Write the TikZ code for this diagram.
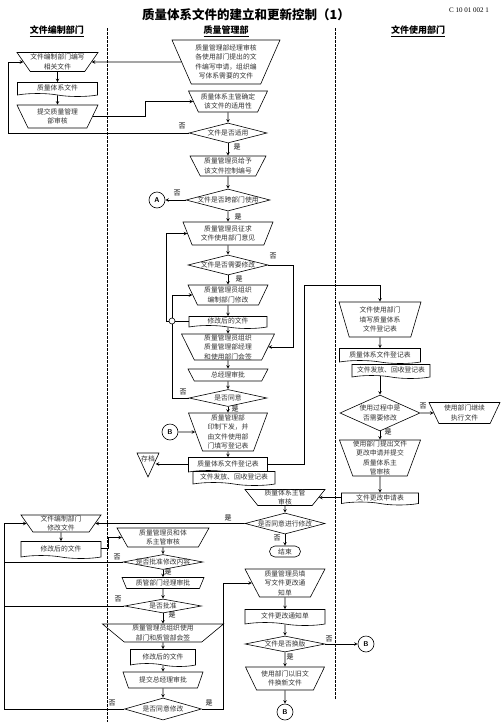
\documentclass[tikz,border=0pt]{standalone}
\usepackage{fontspec}
\setmainfont{Liberation Serif}
\newfontfamily\cjk{Noto Sans CJK SC}
\usetikzlibrary{shapes.geometric,shapes.symbols}

\begin{document}
\begin{tikzpicture}[x=1pt, y=-1pt, >=stealth, line width=0.6pt,
	every node/.style={font=\cjk\fontsize{6.8}{9.5}\selectfont, text=black!80},
	manual/.style={draw, trapezium, shape border rotate=180, trapezium stretches body, align=center, inner sep=0pt},
	doc/.style={draw, tape, tape bend top=none, tape bend bottom=out and in, tape bend height=3pt, align=center, inner sep=0pt},
	decision/.style={draw, diamond, inner sep=0pt},
	terminal/.style={draw, rectangle, rounded corners=5.5pt, minimum width=31pt, minimum height=11pt, inner sep=0pt},
	link/.style={draw, circle, minimum size=16pt, inner sep=0pt, font=\sffamily\bfseries\scriptsize, text=black},
	junction/.style={draw, circle, minimum size=6pt, inner sep=0pt, fill=white},
	tag/.style={font=\cjk\fontsize{7}{8}\selectfont, text=black, inner sep=0pt},
	lane/.style={font=\cjk\fontsize{9}{10}\selectfont\bfseries, text=black}]
	\useasboundingbox (0,0) rectangle (503,726);

	\draw [dash pattern=on 2.5pt off 1.5pt] (107,28) -- (107,722);
	\draw [dash pattern=on 2.5pt off 1.5pt] (335,28) -- (335,700);
	\coordinate (railA) at (8,0);
	\coordinate (railB) at (4,0);
	\coordinate (handover) at (304,285);

	\node (title) at (246,15) {\fontsize{12.5}{14}\selectfont\bfseries\color{black}质量体系文件的建立和更新控制（1）};
	\node (code) at (469,10) {\rmfamily\fontsize{7}{8}\selectfont\color{black}C 10 01 002 1};
	\node (laneAuthor) [lane] at (57,31) {\underline{文件编制部门}};
	\node (laneQuality) [lane] at (226,31) {\underline{质量管理部}};
	\node (laneUser) [lane] at (418,31) {\underline{文件使用部门}};

	% author department
	\node (writeDoc) [manual, minimum width=81pt, minimum height=19pt, trapezium angle=50] at (57.5,62) {文件编制部门编写\\相关文件};
	\node (qsDoc) [doc, minimum width=80pt, minimum height=14pt] at (57.5,88) {质量体系文件};
	\node (submit) [manual, minimum width=81pt, minimum height=23pt, trapezium angle=55] at (57.5,116.5) {提交质量管理\\部审核};

	% quality department
	\node (mgrReview) [manual, minimum width=108pt, minimum height=44pt, trapezium angle=61] at (226,62) {质量管理部经理审核\\各使用部门提出的文\\件编写申请，组织编\\写体系需要的文件};
	\node (confirm) [manual, minimum width=79pt, minimum height=21pt, trapezium angle=58] at (228,101.5) {质量体系主管确定\\该文件的适用性};
	\node (applicable) [decision, minimum width=78pt, minimum height=20pt, label=center:文件是否适用] at (228,133) {};
	\node (assign) [manual, minimum width=76pt, minimum height=20pt, trapezium angle=57] at (228,166) {质量管理员给予\\该文件控制编号};
	\node (crossDept) [decision, minimum width=84pt, minimum height=22pt, label=center:文件是否跨部门使用] at (228,200) {};
	\node (A) [link] at (157,200) {A};
	\node (solicit) [manual, minimum width=90pt, minimum height=23pt, trapezium angle=60] at (228,233.5) {质量管理员征求\\文件使用部门意见};
	\node (needEdit) [decision, minimum width=80pt, minimum height=20pt, label=center:文件是否需要修改] at (228,265) {};
	\node (orgEdit) [manual, minimum width=80pt, minimum height=20pt, trapezium angle=59] at (228,295) {质量管理员组织\\编制部门修改};
	\node (revised) [doc, minimum width=78pt, minimum height=12pt] at (228,321) {修改后的文件};
	\node (joint) [junction] at (172,321) {};
	\node (countersign) [manual, minimum width=93pt, minimum height=26pt, trapezium angle=63] at (228,347) {质量管理员组织\\质量管理部经理\\和使用部门会签};
	\node (gmApprove) [manual, minimum width=80pt, minimum height=12pt, trapezium angle=45] at (228,375) {总经理审批};
	\node (agree) [decision, minimum width=78pt, minimum height=17pt, label=center:是否同意] at (228,398) {};
	\node (issue) [manual, minimum width=79pt, minimum height=38pt, trapezium angle=68] at (228,432) {质量管理部\\印制下发，并\\由文件使用部\\门填写登记表};
	\node (B1) [link] at (170,432) {B};
	\node (register) [doc, minimum width=79pt, minimum height=16pt] at (228,464) {质量体系文件登记表};
	\node (distrib) [doc, fill=white, minimum width=82pt, minimum height=14pt] at (234,477) {文件发放、回收登记表};
	\node (archive) [inner sep=0.5pt] at (148,459) {存档};
	\draw (137,453) -- (159,453) -- (148,477) -- cycle;

	% user department
	\node (userFill) [manual, minimum width=82pt, minimum height=35pt, trapezium angle=68] at (380,319.5) {文件使用部门\\填写质量体系\\文件登记表};
	\node (userRegister) [doc, minimum width=81pt, minimum height=15pt] at (380,354.5) {质量体系文件登记表};
	\node (userDistrib) [doc, fill=white, minimum width=78pt, minimum height=14pt] at (391,370) {文件发放、回收登记表};
	\node (useEdit) [decision, minimum width=80pt, minimum height=36pt, label={[align=center]center:使用过程中是\\否需要修改}] at (380,413) {};
	\node (continueUse) [manual, minimum width=71pt, minimum height=21pt, trapezium angle=58] at (464.5,413) {使用部门继续\\执行文件};
	\node (changeReq) [manual, minimum width=81pt, minimum height=36pt, trapezium angle=69] at (380,458) {使用部门提出文件\\更改申请并提交\\质量体系主\\管审核};
	\node (reqForm) [doc, minimum width=77pt, minimum height=12pt] at (380,497.5) {文件更改申请表};

	% change handling
	\node (supReview) [manual, minimum width=80pt, minimum height=16pt, trapezium angle=51] at (285,497.5) {质量体系主管\\审核};
	\node (agreeEdit) [decision, minimum width=80pt, minimum height=21pt, label=center:是否同意进行修改] at (285,523.5) {};
	\node (finish) [terminal] at (285,551.5) {结束};
	\node (notice) [manual, minimum width=80pt, minimum height=28pt, trapezium angle=60] at (285,583) {质量管理员填\\写文件更改通\\知单};
	\node (noticeDoc) [doc, minimum width=80pt, minimum height=16pt] at (285,616) {文件更改通知单};
	\node (newVersion) [decision, minimum width=80pt, minimum height=16pt, label=center:文件是否换版] at (285,644) {};
	\node (B2) [link] at (366,644) {B};
	\node (replace) [manual, minimum width=79pt, minimum height=23pt, trapezium angle=55] at (285,678.5) {使用部门以旧文\\件换新文件};
	\node (B3) [link] at (285,712) {B};

	\node (authorEdit) [manual, minimum width=80pt, minimum height=17pt, trapezium angle=53] at (61,523.5) {文件编制部门\\修改文件};
	\node (revised2) [doc, minimum width=80pt, minimum height=17pt] at (61,548.5) {修改后的文件};
	\node (staffReview) [manual, minimum width=92pt, minimum height=19pt, trapezium angle=56] at (163,537.5) {质量管理员和体\\系主管审核};
	\node (approveContent) [decision, minimum width=80pt, minimum height=15pt, label=center:是否批准修改内容] at (163,562) {};
	\node (deptApprove) [manual, minimum width=82pt, minimum height=11pt, trapezium angle=54] at (163,583) {质管部门经理审批};
	\node (approved) [decision, minimum width=77pt, minimum height=14pt, label=center:是否批准] at (163,606) {};
	\node (countersign2) [manual, minimum width=121pt, minimum height=18pt, trapezium angle=36] at (163,633) {质量管理员组织使用\\部门和质管部会签};
	\node (revised3) [doc, minimum width=65pt, minimum height=17pt] at (163,656.5) {修改后的文件};
	\node (gmSubmit) [manual, minimum width=80pt, minimum height=16pt, trapezium angle=49] at (163,680) {提交总经理审批};
	\node (agreeChange) [decision, minimum width=77pt, minimum height=22pt, label=center:是否同意修改] at (163,709) {};

	% yes / no
	\node (noApplicable) [tag] at (182,126) {否};
	\node (yesApplicable) [tag] at (237,147) {是};
	\node (noCross) [tag] at (177,193) {否};
	\node (yesCross) [tag] at (238,217) {是};
	\node (noNeed) [tag] at (273,256) {否};
	\node (yesNeed) [tag] at (239,279) {是};
	\node (noAgree) [tag] at (183,392) {否};
	\node (yesAgree) [tag] at (235,409) {是};
	\node (noUse) [tag] at (423,406) {否};
	\node (yesUse) [tag] at (388,432) {是};
	\node (yesEdit) [tag] at (228,518) {是};
	\node (noEdit) [tag] at (277,538) {否};
	\node (noContent) [tag] at (117,557) {否};
	\node (yesContent) [tag] at (168,572) {是};
	\node (noApproved) [tag] at (118,599) {否};
	\node (yesApproved) [tag] at (172,615) {是};
	\node (noChange) [tag] at (112,703) {否};
	\node (yesChange) [tag] at (209,703) {是};
	\node (noVersion) [tag] at (329,639) {否};
	\node (yesVersion) [tag] at (290,657) {是};

	\draw [->] (mgrReview.west) -- (writeDoc.east);
	\draw [->] (writeDoc) -- (qsDoc);
	\draw [->] (qsDoc) -- (submit);
	\draw [->] (submit.east) -- ++(53,0) |- (confirm.west);
	\draw [->] (confirm) -- (applicable);
	\draw [->] (applicable.west) -- (applicable.west -| railA) |- (writeDoc.west);
	\draw [->] (applicable) -- (assign);
	\draw [->] (assign) -- (crossDept);
	\draw [->] (crossDept.west) -- (A);
	\draw [->] (crossDept) -- (solicit);
	\draw [->] (solicit) -- (needEdit);
	\draw [->] (needEdit) -- (orgEdit);
	\draw [->] (needEdit.east) -- ++(25,0) |- (countersign.east);
	\draw [->] (orgEdit) -- (revised);
	\draw [->] (revised) -- (countersign);
	\draw (revised.west) -- (joint);
	\draw [->] (joint.west) -- ++(-2,0) |- (solicit.west);
	\draw [->] (joint) |- (orgEdit.west);
	\draw (agree.west) -| (joint);
	\draw [->] (countersign) -- (gmApprove);
	\draw [->] (gmApprove) -- (agree);
	\draw [->] (agree) -- (issue);
	\draw [->] (B1) -- (issue.west);
	\draw [->] (issue) -- (register);
	\draw [->] (register.west) -- (register.west -| archive.east);
	\draw [->] (register.east) -| (handover) -| (userFill.north);

	\draw [->] (userFill) -- (userRegister);
	\draw [->] (userDistrib.south -| useEdit.north) -- (useEdit);
	\draw [->] (useEdit) -- (continueUse);
	\draw [->] (useEdit) -- (changeReq);
	\draw [->] (changeReq) -- (reqForm);
	\draw [->] (reqForm) -- (supReview);

	\draw [->] (supReview) -- (agreeEdit);
	\draw [->] (agreeEdit) -- (authorEdit);
	\draw [->] (agreeEdit) -- (finish);
	\draw [->] (authorEdit) -- (revised2);
	\draw [->] (revised2.east) -- ++(7,0) |- (staffReview.west);
	\draw [->] (staffReview) -- (approveContent);
	\draw [->] (approveContent) -- (deptApprove);
	\draw [->] (deptApprove) -- (approved);
	\draw [->] (approved) -- (countersign2);
	\draw [->] (countersign2) -- (revised3);
	\draw [->] (revised3) -- (gmSubmit);
	\draw [->] (gmSubmit) -- (agreeChange);
	\draw (approveContent.west) -- (approveContent.west -| railB);
	\draw (approved.west) -- (approved.west -| railB);
	\draw [->] (agreeChange.west) -- (agreeChange.west -| railB) |- (authorEdit.west);
	\draw [->] (agreeChange.east) -- ++(21,0) |- (notice.west);
	\draw [->] (notice) -- (noticeDoc);
	\draw [->] (noticeDoc) -- (newVersion);
	\draw [->] (newVersion) -- (B2);
	\draw [->] (newVersion) -- (replace);
	\draw [->] (replace) -- (B3);
\end{tikzpicture}
\end{document}
